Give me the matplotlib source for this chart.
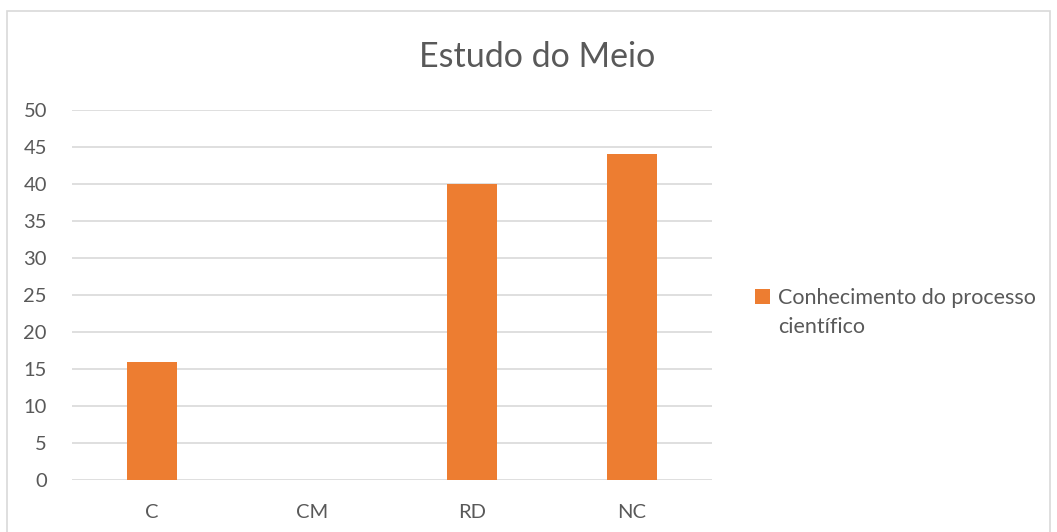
import matplotlib.pyplot as plt
from matplotlib.patches import Patch, Rectangle

categorias = ['C', 'CM', 'RD', 'NC']
valores = [16, 0, 40, 44]
rotulo = ['Conhecimento do processo', 'científico']

laranja = '#ED7D31'
cinza_txt = '#595959'
cinza_grelha = '#D9D9D9'

plt.rcParams['font.family'] = ['Lato', 'DejaVu Sans']

fig = plt.figure(figsize=(10.57, 5.32), dpi=100)
ax = fig.add_axes([0.0681, 0.0977, 0.6055, 0.6955])

barras = ax.bar(categorias, valores, width=0.31, color=laranja, zorder=3)

ax.set_ylim(0, 50)
ax.set_xlim(-0.5, len(categorias) - 0.5)
ax.set_yticks(range(0, 51, 5))
ax.yaxis.grid(True, color=cinza_grelha, linewidth=1.2, zorder=0)
ax.set_axisbelow(True)
for s in ax.spines.values():
    s.set_visible(False)
ax.tick_params(axis='both', length=0, labelsize=14.5, labelcolor=cinza_txt)
ax.tick_params(axis='y', pad=18)
ax.tick_params(axis='x', pad=17)

fig.suptitle('Estudo do Meio', x=0.508, y=0.922, fontsize=24.5, color=cinza_txt)

vazio = Patch(facecolor='none', edgecolor='none')
ax.legend([barras, vazio], rotulo, loc='upper left', bbox_to_anchor=(0.714, 0.458),
          bbox_transform=fig.transFigure, frameon=False, fontsize=15.5,
          labelcolor=cinza_txt, handlelength=0.7, handleheight=0.7,
          handletextpad=0.4, labelspacing=0.4, borderaxespad=0, borderpad=0)

fig.patches.append(Rectangle((7 / 1057, -0.01), 1043 / 1057, 1 - 11 / 532 + 0.01,
                             transform=fig.transFigure, fill=False,
                             edgecolor=cinza_grelha, linewidth=1.2))

fig.savefig('out.png', dpi=100)
